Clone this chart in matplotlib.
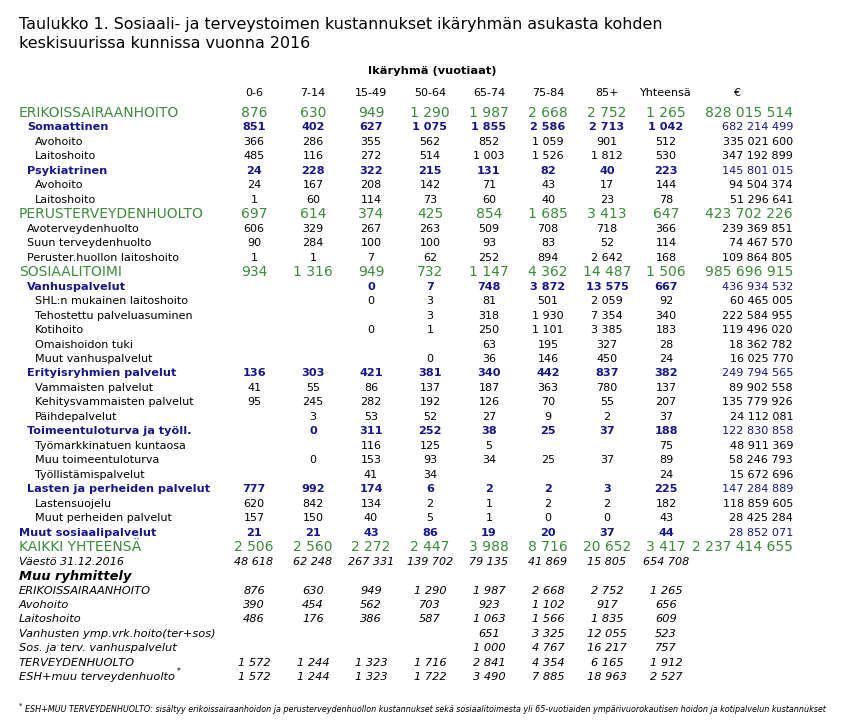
import matplotlib.pyplot as plt

ages = ["0-6", "7-14", "15-49", "50-64", "65-74", "75-84", "85+", "Yhteensä"]

labels = [
    "ERIKOISSAIRAANHOITO", "Somaattinen", "Avohoito", "Laitoshoito",
    "Psykiatrinen", "Avohoito", "Laitoshoito",
    "PERUSTERVEYDENHUOLTO", "Avoterveydenhuolto", "Suun terveydenhuolto",
    "Peruster.huollon laitoshoito",
    "SOSIAALITOIMI", "Vanhuspalvelut", "SHL:n mukainen laitoshoito",
    "Tehostettu palveluasuminen", "Kotihoito", "Omaishoidon tuki",
    "Muut vanhuspalvelut", "Erityisryhmien palvelut", "Vammaisten palvelut",
    "Kehitysvammaisten palvelut", "Päihdepalvelut", "Toimeentuloturva ja työll.",
    "Työmarkkinatuen kuntaosa", "Muu toimeentuloturva", "Työllistämispalvelut",
    "Lasten ja perheiden palvelut", "Lastensuojelu", "Muut perheiden palvelut",
    "Muut sosiaalipalvelut", "KAIKKI YHTEENSÄ", "Väestö 31.12.2016",
    "Muu ryhmittely", "ERIKOISSAIRAANHOITO", "Avohoito", "Laitoshoito",
    "Vanhusten ymp.vrk.hoito(ter+sos)", "Sos. ja terv. vanhuspalvelut",
    "TERVEYDENHUOLTO", "ESH+muu terveydenhuolto",
]

kinds = [
    "g", "b1", "n2", "n2", "b1", "n2", "n2",
    "g", "n1", "n1", "n1",
    "g", "b1", "n2", "n2", "n2", "n2", "n2", "b1", "n2", "n2", "n2", "b1",
    "n2", "n2", "n2", "b1", "n2", "n2", "b0", "g", "pop",
    "hdr", "it", "it", "it", "it", "it", "it", "it",
]

N = None
values = [
    [876, 630, 949, 1290, 1987, 2668, 2752, 1265],
    [851, 402, 627, 1075, 1855, 2586, 2713, 1042],
    [366, 286, 355, 562, 852, 1059, 901, 512],
    [485, 116, 272, 514, 1003, 1526, 1812, 530],
    [24, 228, 322, 215, 131, 82, 40, 223],
    [24, 167, 208, 142, 71, 43, 17, 144],
    [1, 60, 114, 73, 60, 40, 23, 78],
    [697, 614, 374, 425, 854, 1685, 3413, 647],
    [606, 329, 267, 263, 509, 708, 718, 366],
    [90, 284, 100, 100, 93, 83, 52, 114],
    [1, 1, 7, 62, 252, 894, 2642, 168],
    [934, 1316, 949, 732, 1147, 4362, 14487, 1506],
    [N, N, 0, 7, 748, 3872, 13575, 667],
    [N, N, 0, 3, 81, 501, 2059, 92],
    [N, N, N, 3, 318, 1930, 7354, 340],
    [N, N, 0, 1, 250, 1101, 3385, 183],
    [N, N, N, N, 63, 195, 327, 28],
    [N, N, N, 0, 36, 146, 450, 24],
    [136, 303, 421, 381, 340, 442, 837, 382],
    [41, 55, 86, 137, 187, 363, 780, 137],
    [95, 245, 282, 192, 126, 70, 55, 207],
    [N, 3, 53, 52, 27, 9, 2, 37],
    [N, 0, 311, 252, 38, 25, 37, 188],
    [N, N, 116, 125, 5, N, N, 75],
    [N, 0, 153, 93, 34, 25, 37, 89],
    [N, N, 41, 34, N, N, N, 24],
    [777, 992, 174, 6, 2, 2, 3, 225],
    [620, 842, 134, 2, 1, 2, 2, 182],
    [157, 150, 40, 5, 1, 0, 0, 43],
    [21, 21, 43, 86, 19, 20, 37, 44],
    [2506, 2560, 2272, 2447, 3988, 8716, 20652, 3417],
    [48618, 62248, 267331, 139702, 79135, 41869, 15805, 654708],
    [N, N, N, N, N, N, N, N],
    [876, 630, 949, 1290, 1987, 2668, 2752, 1265],
    [390, 454, 562, 703, 923, 1102, 917, 656],
    [486, 176, 386, 587, 1063, 1566, 1835, 609],
    [N, N, N, N, 651, 3325, 12055, 523],
    [N, N, N, N, 1000, 4767, 16217, 757],
    [1572, 1244, 1323, 1716, 2841, 4354, 6165, 1912],
    [1572, 1244, 1323, 1722, 3490, 7885, 18963, 2527],
]

euros = [
    828015514, 682214499, 335021600, 347192899, 145801015, 94504374, 51296641,
    423702226, 239369851, 74467570, 109864805,
    985696915, 436934532, 60465005, 222584955, 119496020, 18362782, 16025770,
    249794565, 89902558, 135779926, 24112081, 122830858, 48911369, 58246793,
    15672696, 147284889, 118859605, 28425284, 28852071, 2237414655,
    N, N, N, N, N, N, N, N, N,
]

GREEN = "#3b8b3b"
NAVY = "#16168a"

style = {
    "g":   dict(color=GREEN, size=10.0, weight="normal", style="normal", x=19, ecol=GREEN),
    "b1":  dict(color=NAVY, size=8.1, weight="bold", style="normal", x=27, ecol=NAVY),
    "b0":  dict(color=NAVY, size=8.1, weight="bold", style="normal", x=19, ecol=NAVY),
    "n1":  dict(color="black", size=8.0, weight="normal", style="normal", x=27, ecol="black"),
    "n2":  dict(color="black", size=8.0, weight="normal", style="normal", x=35, ecol="black"),
    "pop": dict(color="black", size=8.0, weight="normal", style="italic", x=19, ecol="black"),
    "hdr": dict(color="black", size=9.4, weight="bold", style="italic", x=19, ecol="black"),
    "it":  dict(color="black", size=8.2, weight="normal", style="italic", x=19, ecol="black"),
}


def fmt(v):
    if v is None:
        return ""
    return f"{v:,}".replace(",", " ")


fig = plt.figure(figsize=(8.65, 7.27), dpi=100)
ax = fig.add_axes([0, 0, 1, 1])
ax.set_xlim(0, 865)
ax.set_ylim(727, 0)
ax.axis("off")

# title
ax.text(19, 25, "Taulukko 1. Sosiaali- ja terveystoimen kustannukset ikäryhmän asukasta kohden",
        fontsize=11.45, va="center")
ax.text(19, 44, "keskisuurissa kunnissa vuonna 2016",
        fontsize=11.45, va="center")

col_x = [254, 313, 371, 430, 489, 548, 607, 666]
euro_x = 793

ax.text(432, 71, "Ikäryhmä (vuotiaat)", fontsize=8.2, weight="bold", ha="center", va="center")
for cx, a in zip(col_x, ages):
    ax.text(cx, 93, a, fontsize=8.0, ha="center", va="center")
ax.text(737, 93, "€", fontsize=8.0, ha="center", va="center")

y0, dy = 113, 14.47
for i, (lab, k, vals, e) in enumerate(zip(labels, kinds, values, euros)):
    s = style[k]
    y = y0 + i * dy
    kw = dict(color=s["color"], fontsize=s["size"], fontweight=s["weight"],
              fontstyle=s["style"], va="center")
    ax.text(s["x"], y, lab, ha="left", **kw)
    if lab == "ESH+muu terveydenhuolto":
        ax.text(s["x"] + 158, y - 6, "*", fontsize=5.5, fontstyle="italic", va="center")
    for cx, v in zip(col_x, vals):
        ax.text(cx, y, fmt(v), ha="center", **kw)
    ekw = dict(kw)
    ekw["color"] = s["ecol"]
    ekw["fontweight"] = "normal"
    ax.text(euro_x, y, fmt(e), ha="right", **ekw)

# footnote
ax.text(19, 706, "*", fontsize=5, fontstyle="italic", va="center")
ax.text(25, 710,
        "ESH+MUU TERVEYDENHUOLTO: sisältyy erikoissairaanhoidon ja perusterveydenhuollon "
        "kustannukset sekä sosiaalitoimesta yli 65-vuotiaiden ympärivuorokautisen hoidon "
        "ja kotipalvelun kustannukset",
        fontsize=5.8, fontstyle="italic", va="center")

fig.savefig("out.png", dpi=100)
